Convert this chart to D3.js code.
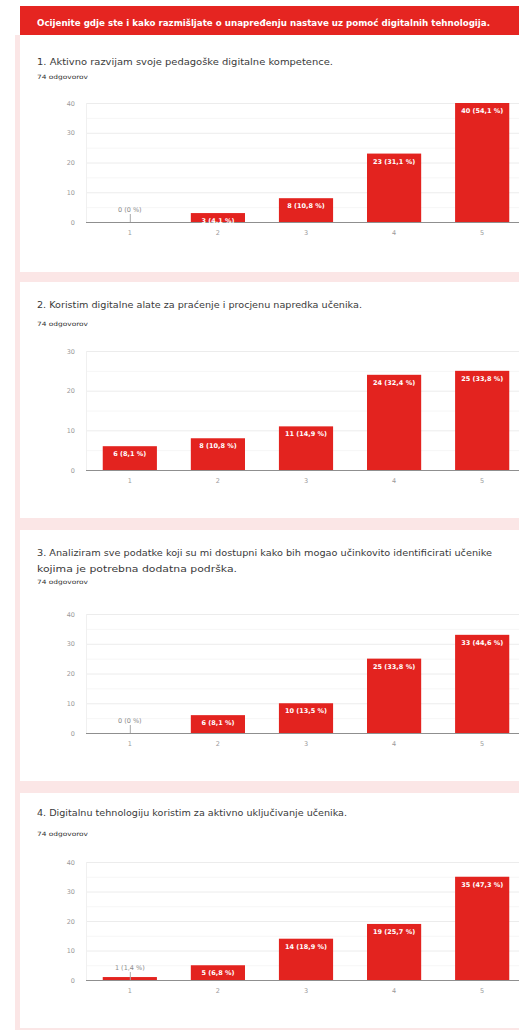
<!DOCTYPE html>
<html>
  <head>
    <title>Ocijenite</title>
    <script src="https://cdn.jsdelivr.net/npm/d3@7/dist/d3.min.js" charset="utf-8"></script>
<style>
body { margin: 0; background: #ffffff; }
text { font-family: "DejaVu Sans", sans-serif; }
.grid line { stroke: #ececec; stroke-width: 1; }
.grid-minor line { stroke: #f6f6f6; stroke-width: 1; }
.bar { fill: #e3231f; }
.tick-label { fill: #9a9a9a; font-size: 6.5px; }
.inlabel { fill: #ffffff; font-size: 6.5px; font-weight: bold; }
.outlabel { fill: #8a8a8a; font-size: 6.5px; }
</style>
  </head>
  <body>
    <svg></svg>
    <script>
      var width = 519;
      var height = 1030;

      var header = "Ocijenite gdje ste i kako razmišljate o unapređenju nastave uz pomoć digitalnih tehnologija.";
      var categories = ["1", "2", "3", "4", "5"];
      var responses = "74 odgovorov";

      var titles1 = ["1. Aktivno razvijam svoje pedagoške digitalne kompetence."];
      var values1 = [0, 3, 8, 23, 40];
      var labels1 = ["0 (0 %)", "3 (4,1 %)", "8 (10,8 %)", "23 (31,1 %)", "40 (54,1 %)"];
      var ticks1 = [0, 10, 20, 30, 40];

      var titles2 = ["2. Koristim digitalne alate za praćenje i procjenu napredka učenika."];
      var values2 = [6, 8, 11, 24, 25];
      var labels2 = ["6 (8,1 %)", "8 (10,8 %)", "11 (14,9 %)", "24 (32,4 %)", "25 (33,8 %)"];
      var ticks2 = [0, 10, 20, 30];

      var titles3 = ["3. Analiziram sve podatke koji su mi dostupni kako bih mogao učinkovito identificirati učenike",
                     "kojima je potrebna dodatna podrška."];
      var values3 = [0, 6, 10, 25, 33];
      var labels3 = ["0 (0 %)", "6 (8,1 %)", "10 (13,5 %)", "25 (33,8 %)", "33 (44,6 %)"];
      var ticks3 = [0, 10, 20, 30, 40];

      var titles4 = ["4. Digitalnu tehnologiju koristim za aktivno uključivanje učenika."];
      var values4 = [1, 5, 14, 19, 35];
      var labels4 = ["1 (1,4 %)", "5 (6,8 %)", "14 (18,9 %)", "19 (25,7 %)", "35 (47,3 %)"];
      var ticks4 = [0, 10, 20, 30, 40];

      var svg = d3.select("svg").attr("width", width).attr("height", height);

      // pink page strip + gaps between cards
      svg.append("rect").attr("x", 15).attr("y", 35).attr("width", width - 15).attr("height", height - 35)
        .attr("fill", "#fbe6e6");

      // header band
      svg.append("rect").attr("x", 20).attr("y", 6).attr("width", width - 20).attr("height", 29)
        .attr("fill", "#e52521");
      svg.append("text").attr("x", 37).attr("y", 26)
        .attr("fill", "#ffffff").attr("font-size", "8.6px").attr("font-weight", "bold")
        .attr("textLength", 453).attr("lengthAdjust", "spacingAndGlyphs")
        .text(header);

      var charts = [
        {titles: titles1, widths: [296], values: values1, labels: labels1, ticks: ticks1,
         card: [35, 272], titleY: 65, respY: 79, top: 103, zero: 222},
        {titles: titles2, widths: [325], values: values2, labels: labels2, ticks: ticks2,
         card: [282, 518], titleY: 308, respY: 326, top: 351, zero: 470},
        {titles: titles3, widths: [455, 200], values: values3, labels: labels3, ticks: ticks3,
         card: [530, 781], titleY: 556, respY: 584, top: 614, zero: 733},
        {titles: titles4, widths: [310], values: values4, labels: labels4, ticks: ticks4,
         card: [793, 1028], titleY: 816, respY: 836, top: 862, zero: 980}
      ];

      charts.forEach(function(c){
        var g = svg.append("g");
        g.append("rect").attr("x", 20).attr("y", c.card[0])
          .attr("width", width - 20).attr("height", c.card[1] - c.card[0])
          .attr("fill", "#ffffff");

        c.titles.forEach(function(t, i){
          g.append("text").attr("x", 37).attr("y", c.titleY + i * 16)
            .attr("fill", "#3a3a3a").attr("font-size", "8.6px")
            .attr("textLength", c.widths[i]).attr("lengthAdjust", "spacingAndGlyphs")
            .text(t);
        });
        g.append("text").attr("x", 37).attr("y", c.respY)
          .attr("fill", "#333333").attr("font-size", "6px")
          .attr("textLength", 51).attr("lengthAdjust", "spacingAndGlyphs")
          .text(responses);

        var yMax = c.ticks[c.ticks.length - 1];
        var x = d3.scaleBand().domain(categories).range([86, 526]).paddingInner(0.385).paddingOuter(0.19);
        var y = d3.scaleLinear().domain([0, yMax]).range([c.zero, c.top]);

        // minor gridlines
        g.append("g").attr("class", "grid-minor")
          .selectAll("line").data(d3.range(5, yMax, 10)).enter().append("line")
            .attr("x1", 86).attr("x2", width)
            .attr("y1", function(d){ return y(d) + 0.5; })
            .attr("y2", function(d){ return y(d) + 0.5; });
        // major gridlines
        g.append("g").attr("class", "grid")
          .selectAll("line").data(c.ticks.slice(1)).enter().append("line")
            .attr("x1", 86).attr("x2", width)
            .attr("y1", function(d){ return y(d) + 0.5; })
            .attr("y2", function(d){ return y(d) + 0.5; });
        g.append("line").attr("x1", 86.5).attr("x2", 86.5).attr("y1", c.top).attr("y2", c.zero)
          .attr("stroke", "#f0f0f0");

        // y tick labels
        g.selectAll(".ylab").data(c.ticks).enter().append("text")
          .attr("class", "tick-label")
          .attr("x", 75).attr("y", function(d){ return y(d) + 2.5; })
          .attr("text-anchor", "end")
          .text(function(d){ return d; });

        // bars
        g.selectAll(".bar").data(c.values).enter().append("rect")
          .attr("class", "bar")
          .attr("x", function(d, i){ return x(categories[i]); })
          .attr("width", x.bandwidth())
          .attr("y", function(d){ return y(d); })
          .attr("height", function(d){ return c.zero - y(d); });

        // axis baseline
        g.append("line").attr("x1", 86).attr("x2", width)
          .attr("y1", c.zero + 0.5).attr("y2", c.zero + 0.5)
          .attr("stroke", "#8f8f8f").attr("stroke-width", 1);

        // x tick labels
        g.selectAll(".xlab").data(categories).enter().append("text")
          .attr("class", "tick-label")
          .attr("x", function(d){ return x(d) + x.bandwidth() / 2; })
          .attr("y", c.zero + 13)
          .attr("text-anchor", "middle")
          .text(function(d){ return d; });

        // value labels
        c.values.forEach(function(v, i){
          var cx = x(categories[i]) + x.bandwidth() / 2;
          if (v <= 1) {
            g.append("line").attr("x1", cx + 0.5).attr("x2", cx + 0.5)
              .attr("y1", c.zero - 8).attr("y2", c.zero)
              .attr("stroke", "#aaaaaa");
            g.append("text").attr("class", "outlabel")
              .attr("x", cx).attr("y", c.zero - 10)
              .attr("text-anchor", "middle")
              .text(c.labels[i]);
          } else {
            g.append("text").attr("class", "inlabel")
              .attr("x", cx).attr("y", y(v) + 10)
              .attr("text-anchor", "middle")
              .text(c.labels[i]);
          }
        });
      });
    </script>
  </body>
</html>
